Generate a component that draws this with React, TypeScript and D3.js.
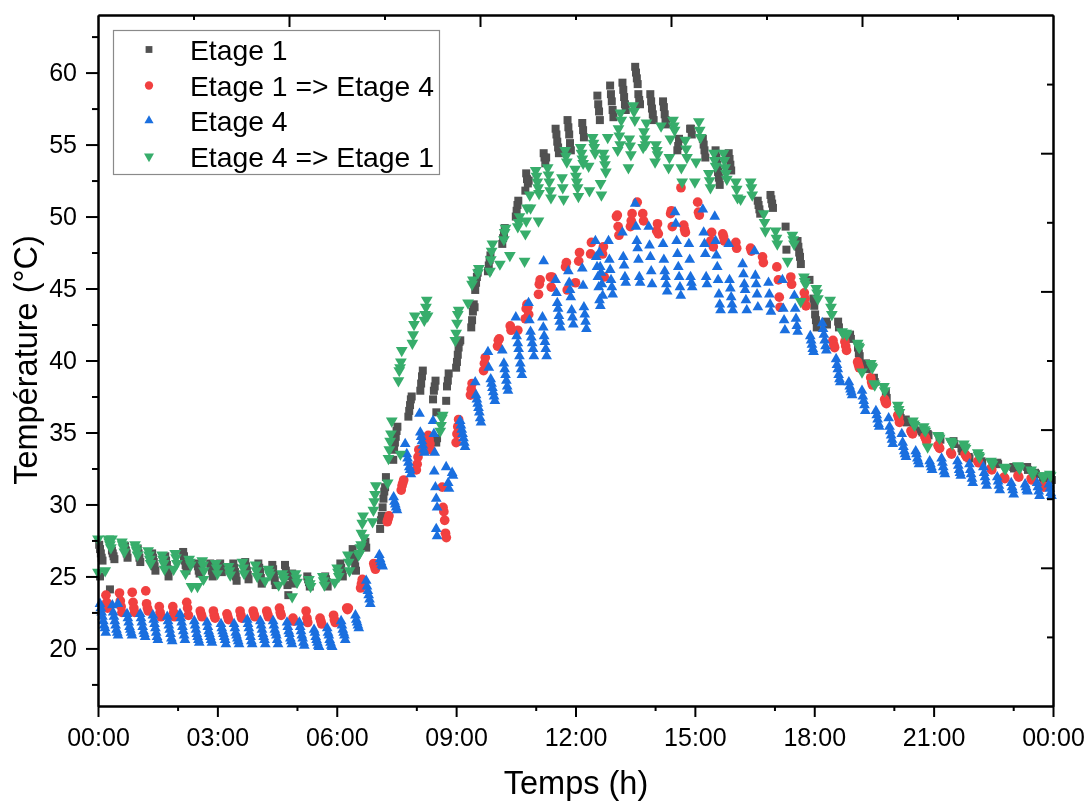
import * as d3 from "d3"
import { useEffect, useRef } from "react"

// each entry is one measurement burst: [start hour, successive temperatures, BURST_STEP apart]
type Burst = [number, number[]]

const BURST_STEP = 1 / 48

const etage1: Burst[] = [
  [0.03, [27.2, 26.9, 26.6, 26.3, 26.1]], [0.05, [25]],
  [0.35, [26.8, 26.6, 26.4, 26.2]], [0.3, [24.1]],
  [0.68, [27.1, 26.8, 26.6, 26.3]],
  [1.0, [26.9, 26.6, 26.3, 26]],
  [1.36, [26.6, 26.3, 26, 25.7, 25.4]],
  [1.69, [26.4, 26.1, 25.8, 25.5, 25]],
  [2.14, [26.7, 26.4, 26.1, 25.8, 25.4]],
  [2.49, [25.9, 25.7, 25.4, 25.2]],
  [2.82, [25.9, 25.7, 25.4, 25]],
  [3.07, [25.9, 25.6, 25.3]],
  [3.4, [25.9, 25.6, 25.3, 25, 24.7]],
  [3.7, [26, 25.7, 25.4, 25.1, 24.8]],
  [4.03, [25.9, 25.6, 25.3, 24.9, 24.5]],
  [4.38, [25.8, 25.5, 25.1, 24.7, 24.4]],
  [4.7, [25.8, 25.4, 25, 24.4, 23.7]],
  [4.88, [25.2, 24.9, 24.5]],
  [5.26, [25, 24.8, 24.6, 24.3]],
  [5.71, [25, 24.8, 24.6, 24.3]],
  [6.09, [25.9, 25.6, 25.2, 25]],
  [6.4, [26.9, 26.5, 26.1, 25.7, 25.4]],
  [6.72, [27.4, 27]],
  [7.09, [28.3, 28.9, 29.2, 29.8, 30.4, 30.9, 31.2, 31.9]],
  [7.42, [33.1, 33.8, 34.3, 34.7, 35.1, 35.4]],
  [7.8, [36.1, 36.5, 36.9, 37.3, 37.5]],
  [8.1, [37.9, 38.4, 38.9, 39.3]],
  [8.42, [37.3, 37.9, 38.2, 38.6, 36.4]],
  [8.5, [34.3, 34.6]],
  [8.75, [37.2, 38.2, 38.6, 39.1]],
  [9.0, [39.5, 39.9, 40.4, 40.9, 41.3, 41.4]],
  [9.38, [42.3, 42.8, 43.4, 43.9, 43.7]],
  [9.48, [44.9, 45.4, 45.8, 46.1]],
  [9.8, [46.2, 46.6, 47, 47.3]],
  [10.16, [48.1, 48.5, 48.8, 49.2]],
  [10.5, [50, 50.4, 50.8, 51.1]],
  [10.74, [51.8, 53, 52.6, 52.3, 52.5]],
  [11.2, [54.4, 54.1, 53.7, 54.1]],
  [11.5, [56.1, 55.7, 55.2, 54.8, 54.4]],
  [11.8, [56.7, 56.2, 55.7, 55.1, 54.6]],
  [12.17, [56.5, 56, 55.5]],
  [12.55, [58.4, 57.8, 57.3, 56.7]],
  [12.87, [59.1, 58.5, 58, 57.4, 56.9]],
  [13.18, [59.3, 58.8, 58.3, 57.8, 57.4]],
  [13.5, [60.4, 60, 59.6, 59.2]],
  [13.58, [58.5, 58.1, 57.8]],
  [13.88, [58.5, 58, 57.5, 57.1, 56.7]],
  [14.2, [58, 57.6, 57.1, 56.7, 56.4]],
  [14.56, [54.6, 54.9, 55.4]],
  [14.88, [56.1, 56.1, 55.7]],
  [15.2, [55.4, 55, 54.6, 54.1]],
  [15.52, [54.6, 54.1, 53.6, 53.1, 52.7, 52.2]],
  [15.85, [54.4, 54, 53.6, 53.2]],
  [16.58, [51.1, 50.8, 50.5, 50.2]],
  [16.9, [51.5, 51.2, 50.9, 50.6]],
  [17.28, [49.3, 47.7]],
  [17.58, [48.3, 47.9, 47.5, 47.2, 46.7]],
  [17.88, [45.6]],
  [17.98, [44.3, 43.8, 43.2, 42.8, 42.3]],
  [18.3, [42.7, 42.5]],
  [18.6, [42.7, 42.3]],
  [18.9, [41.8, 41.5]],
  [19.1, [40.9, 40.5, 40.3]],
  [19.3, [39.8, 39.4]],
  [19.5, [38.8, 38.5]],
  [19.8, [37.8, 37.4]],
  [20.15, [36.3, 36]],
  [20.3, [35.9, 35.7]],
  [20.5, [35.5, 35.2]],
  [20.7, [35.1, 35]],
  [20.85, [34.9, 34.8]],
  [21.15, [34.7, 34.5]],
  [21.5, [34.4, 34.2]],
  [21.7, [33.9, 33.7]],
  [21.88, [33.3, 33.2]],
  [22.2, [33, 32.9]],
  [22.6, [32.9, 32.8]],
  [23.0, [32.6, 32.5]],
  [23.35, [32.6, 32.4]],
  [23.55, [32.2, 32.1]],
  [23.75, [31.9, 31.8]],
  [23.95, [32, 31.7]],
]

const etage1To4: Burst[] = [
  [0.2, [23.7, 23.2, 22.8]], [0.54, [23.85, 23.3, 22.9, 22.5]], [0.86, [23.9, 23.2, 22.8, 22.5]],
  [1.2, [24, 23.1, 22.8, 22.6]], [1.54, [22.9, 22.5, 22.2]], [1.88, [22.9, 22.5, 22.2]],
  [2.23, [23.2, 22.8, 22.3]], [2.57, [22.6, 22.4, 22.2]], [2.9, [22.6, 22.3, 22.1]],
  [3.24, [22.4, 22.2, 22]], [3.57, [22.6, 22.3, 22.1]], [3.9, [22.6, 22.4, 22.2]],
  [4.24, [22.6, 22.4, 22.2]], [4.56, [22.8, 22.5, 22.3]], [4.9, [22.1, 21.9]],
  [5.23, [22.6, 22.1, 21.8]], [5.58, [22.1, 21.9, 21.7]], [5.92, [22.3, 22, 21.8]],
  [6.25, [22.8, 22.7, 22.8]], [6.6, [24.2, 24.5, 24.8]], [6.93, [25.9, 25.7, 25.5]],
  [7.27, [28.8, 29, 29.2]], [7.62, [31, 31.3, 31.5, 31.7]], [8.0, [32.4, 32.8, 33.3, 33.8]],
  [8.3, [34.8, 34.5, 34.2, 33.8]], [8.65, [31.2, 29.8, 29.5, 28.9, 28, 27.7]],
  [9.0, [34.3, 34.9, 35.4, 35.9]], [9.36, [37.6, 38, 38.4]], [9.69, [39.3, 39.8, 40.2]],
  [10.04, [41, 41.4, 41.5]], [10.36, [42.4, 42.1]], [10.55, [42.1]],
  [10.74, [42.9, 43.6, 43.9, 43.7, 43.2]], [11.07, [44.6, 45.3, 45.6]], [11.37, [45.8, 45.1, 45.8]],
  [11.75, [46.5, 46.8, 44.9]], [12.0, [45.4]], [12.08, [46.9, 47.5]], [12.38, [47.4, 48.2]],
  [12.68, [47.4, 47.9, 45.8]], [13.03, [50, 50.1, 49.3, 48.7]], [13.38, [49.3, 49.7, 50.2]], [13.55, [51]],
  [13.69, [50.2, 49.7]], [14.04, [49, 49.5, 48.8]], [14.39, [50.2, 50.4, 49.3]],
  [14.72, [49.4, 49.1, 48.9]], [14.65, [52]], [15.07, [51, 50.3, 50.1]],
  [15.4, [48.3, 48.9, 48.3, 47.9]], [15.7, [48.8, 48.6, 48.3]], [16.03, [48.2, 47.8]],
  [16.4, [47.8, 47.6]], [16.7, [47.2, 46.8]], [17.06, [46.5]], [17.1, [45.6, 44.4, 43.7]],
  [17.41, [45.8, 45.3]], [17.75, [44.7, 44.3, 43.8]],
  [18.47, [41.4, 41.1, 40.9]], [18.77, [41.3, 41, 40.7]], [19.09, [39.9, 39.7, 39.5]],
  [19.42, [38.8, 38.5, 38.3]], [19.77, [37.3, 37.1, 37]], [20.1, [36.2, 36, 35.7]],
  [20.43, [35.1, 35, 34.9]], [20.78, [34.7, 34.6, 34.4]], [21.11, [34.1, 34, 33.9]],
  [21.43, [33.6, 33.5]], [21.79, [33.5, 33.4, 33.3]], [22.11, [33, 32.9]], [22.44, [32.5, 32.4]],
  [22.77, [31.9, 31.8]], [23.12, [32, 31.9]], [23.45, [31.8, 31.7]], [23.75, [31.3, 31.2]],
]

const etage4: Burst[] = [
  [0.05, [23.1, 22.8, 22.5, 22.2, 21.9, 21.6, 21.4, 21.1]], [0.36, [23]], [0.5, [23.1]],
  [0.38, [22.5, 22.2, 21.9, 21.6, 21.3, 21.1, 20.9]],
  [0.73, [22.4, 22.1, 21.8, 21.5, 21.3, 21.1, 20.9]],
  [1.06, [22.4, 22.1, 21.8, 21.5, 21.2, 21, 20.8]],
  [1.38, [22.3, 22, 21.7, 21.4, 21.1, 20.8, 20.6]],
  [1.74, [22.2, 21.9, 21.6, 21.3, 21, 20.7, 20.5]],
  [2.06, [22.4, 22.1, 21.8, 21.5, 21.2, 20.9, 20.6]],
  [2.42, [21.9, 21.6, 21.3, 21, 20.8, 20.6, 20.4]],
  [2.74, [21.8, 21.5, 21.2, 21, 20.8, 20.6, 20.4]],
  [3.09, [21.7, 21.4, 21.2, 21, 20.8, 20.6, 20.3]],
  [3.42, [21.7, 21.4, 21.1, 20.9, 20.7, 20.5, 20.3]],
  [3.75, [22, 21.7, 21.4, 21.1, 20.8, 20.5, 20.3]],
  [4.08, [21.9, 21.6, 21.3, 21, 20.8, 20.6, 20.3]],
  [4.4, [21.9, 21.6, 21.3, 21.1, 20.9, 20.6, 20.3]],
  [4.75, [21.8, 21.5, 21.2, 21, 20.7, 20.5, 20.3]],
  [5.06, [21.8, 21.5, 21.2, 20.9, 20.7, 20.4, 20.2]],
  [5.43, [21.3, 21.1, 20.8, 20.6, 20.4, 20.2, 20.1]],
  [5.76, [21.4, 21.1, 20.9, 20.6, 20.4, 20.2, 20.1]],
  [6.11, [21.9, 21.6, 21.3, 21.1, 20.9, 20.6]],
  [6.47, [22.3, 22, 21.8, 21.6, 21.4]],
  [6.74, [24.7, 24.3, 24, 23.7, 23.4, 23.1]],
  [7.07, [26.5, 26.2, 26, 25.8, 25.7]],
  [7.43, [30.5, 30.2, 30, 29.8, 29.6]],
  [7.72, [34.2]], [7.76, [33.5, 33.2, 32.9, 32.6, 32.4, 32.1]],
  [8.08, [36.3]], [8.1, [35, 34.7, 34.4, 34.1, 33.8, 33.6]],
  [8.42, [35.8, 34.9, 33.6]], [8.45, [32.3]],
  [8.75, [32.6]], [8.9, [32.2, 32]], [8.8, [31.5, 31.1]],
  [8.48, [31.2, 30.4, 29.8]], [8.5, [28.3, 27.8]],
  [9.1, [35.8, 35.5, 35.2, 34.9, 34.6, 34.3, 34]],
  [9.48, [38.5]], [9.5, [37.6, 37.3, 37, 36.7, 36.4, 36, 35.7]],
  [9.8, [40.6, 39.5]], [9.87, [38.7, 38.4, 38.1, 37.8, 37.5, 37.2]],
  [10.16, [40.7]], [10.2, [39.8, 39.4, 39, 38.6, 38.2, 37.9]],
  [10.5, [43, 41.7]], [10.55, [41.2, 40.8, 40.3, 39.8, 39.4, 39]],
  [10.82, [44, 42.8]], [10.87, [42, 41.6, 41.2, 40.8, 40.3]],
  [11.17, [43, 42.3, 41.7, 41.3, 40.8, 40.3]], [11.2, [46.9]],
  [11.5, [45.6, 44.7, 44, 43.6, 43.1, 42.7, 42.3]],
  [11.82, [46.2, 45.4, 44.9, 44.4, 43.5, 43, 42.5]],
  [12.17, [46.4, 45.2, 43.7, 43.2, 42.7, 42.2]],
  [12.5, [48.3, 47.2, 46.5, 45.8, 45.1, 44.2, 43.8]],
  [12.6, [47.5, 46.5, 46.1, 45.3, 44.5]],
  [12.83, [48.3, 47, 46.3, 45.6, 45.1, 44.6]],
  [13.18, [48.9, 47.2, 46.6, 45.8, 45.4]],
  [13.5, [50.9]], [13.52, [49.3, 48.3, 47.8, 47, 45.8, 45.4]],
  [13.84, [49.3, 48, 47.2, 46.2, 45.3]],
  [14.2, [48.1, 47, 46.2, 45.8, 45.3, 44.8]],
  [14.5, [50.3, 49.5, 48.3, 47.4, 46.5, 45.8, 45.1, 44.5]],
  [14.85, [48.1, 47, 45.8, 45.4, 45.1]],
  [15.2, [50.5, 48.9, 48.1, 47.4, 45.8, 45.3]],
  [15.5, [50, 48.3, 47.3, 46.5, 45.6, 44.6, 43.9, 43.5]],
  [15.85, [48.1, 45.6, 45, 44.4, 43.9, 43.5]],
  [16.2, [46.7, 46, 45.3, 44.9, 44.2, 43.5]],
  [16.5, [47.6, 45.9, 45.3, 44.6, 43.7]],
  [16.85, [45.4, 44.6, 43.9, 43.4]],
  [17.2, [45.6, 43.6, 42.8, 42.1]],
  [17.5, [44.5, 43.6, 42.9, 42.4, 42]],
  [17.9, [41.7, 41.4, 41.1, 40.8, 40.6]],
  [18.2, [42.6, 42.2, 41.8, 41.4, 41, 40.7]],
  [18.55, [40.1, 39.7, 39.4, 39, 38.7, 38.5]],
  [18.87, [38.5, 38.2, 38, 37.8, 37.6]],
  [19.2, [37.9, 37.5, 37.2, 36.9, 36.5]],
  [19.55, [36.5, 36.2, 35.9, 35.6, 35.4]],
  [19.87, [36, 35.4, 35.1, 34.8, 34.5, 34.2]],
  [20.2, [34.9, 34.3, 34, 33.7, 33.5, 33.3]],
  [20.55, [33.7, 33.5, 33.2, 33, 32.8]],
  [20.9, [33, 32.8, 32.6, 32.4]],
  [21.2, [33.2, 32.9, 32.6, 32.3, 32.1]],
  [21.6, [33, 32.7, 32.4, 32.2, 32]],
  [21.9, [32.8, 32.4, 32.1, 31.8, 31.5]],
  [22.25, [32.6, 32.2, 31.9, 31.6, 31.3]],
  [22.6, [31.9, 31.6, 31.3, 31]],
  [22.95, [31.5, 31.2, 31, 30.7]],
  [23.3, [31.4, 31.2, 31, 30.9]],
  [23.6, [31.5, 31.2, 30.9, 30.6]],
  [23.9, [31.4, 31.1, 30.8, 30.6]],
]

const etage4To1: Burst[] = [
  [0.0, [27.6]], [0.0, [25.3]], [0.18, [25.4]],
  [0.26, [27.6, 27.4, 27.2, 27]], [0.35, [27.6]],
  [0.6, [27.4, 27.2, 27, 26.7]], [0.93, [27.2, 27, 26.8, 26.5]],
  [1.26, [26.8, 26.5, 26.2, 25.9]], [1.61, [26.5, 26.2, 25.9, 25.5]],
  [1.94, [26.6, 26.3, 25.9]], [1.9, [25.5]], [2.2, [25.2]],
  [2.29, [26.2, 26, 25.8]], [2.35, [24.3]], [2.5, [24.3]],
  [2.62, [26.1, 25.8, 25.4]], [2.65, [24.8]],
  [2.96, [25.9, 25.6, 25.2]], [3.28, [25.7, 25.4, 25.1]], [3.63, [26, 25.6, 25.2]],
  [3.96, [25.8, 25.4, 25]], [4.2, [24.7]], [4.28, [25.5, 25.3, 25.1]],
  [4.54, [24.4]], [4.63, [25.2, 25, 24.8]], [4.88, [23.6]], [4.96, [25.2, 24.9, 24.6]],
  [5.3, [24.8, 24.5, 24.3]], [5.65, [25, 24.7, 24.4]],
  [5.95, [24.6]], [6.01, [25.6, 25.3, 25]], [6.28, [26.5, 26, 25.4]],
  [6.55, [26.5, 26.6, 27, 27.2]], [6.62, [28, 28.7, 29.2, 27.7]],
  [6.9, [28.8, 29.6, 30.2, 30.7, 31.3]], [7.28, [31.5]],
  [7.3, [33.2, 33.8, 34.4, 34.9, 35.8]], [7.6, [33.5]],
  [7.55, [38.6, 39.3, 39.5, 39.9, 40.7]],
  [7.9, [41.2, 41.8, 42.5, 43.1]], [8.2, [42.8, 43.2, 43.7, 44.2, 43.1]],
  [8.6, [35.1, 35.5, 36, 36.2]],
  [8.98, [41.4, 41.9, 42.6, 43.2, 43.5]], [9.3, [44]],
  [9.4, [45.3, 45.6]], [9.55, [46.1, 46.4]], [9.85, [46.2, 47, 47.6, 48.1]],
  [10.1, [46.7]], [10.2, [48.4, 48.9, 49.2]], [10.35, [47.3]],
  [10.55, [49.3, 49.6, 50]], [10.72, [46.9, 48.8, 49.7, 50.6]],
  [10.85, [51.5, 50.6]], [11.07, [49.7]],
  [11.0, [53.2, 52.8, 52.4, 52, 51.6]],
  [11.3, [53.4, 52.9, 52.4, 51.8, 51.3]],
  [11.66, [52.7, 52, 51.2]], [11.74, [54.6, 54.2, 53.8]],
  [11.99, [53.3, 52.8, 52.4, 52, 51.4]], [12.13, [54.8, 54.4, 54, 53.7]],
  [12.33, [53.5, 51.8]], [12.43, [55.5, 55.1, 54.8, 54.4]],
  [12.63, [52.3, 51.5]], [12.7, [54.4, 54, 53.6, 53.1]], [12.81, [55.5]],
  [13.06, [54.6, 56.1, 55.6, 55]], [13.13, [57.2, 56.7]],
  [13.33, [53.4, 55.4, 54.9, 54.3]], [13.45, [57.7, 57.3, 56.7]],
  [13.7, [54.8, 55.9, 55.4, 55, 56.5]],
  [14.0, [53.8, 55, 54.6, 54.3]], [14.15, [56.3]],
  [14.34, [53.4, 54.1, 55.4]], [14.45, [56.7, 56.3, 56]],
  [14.66, [53.4, 52.4]], [14.76, [55.3, 54.7, 54.1]], [15.0, [52.4]],
  [15.03, [53.8]], [15.1, [56.6, 56, 55.5]],
  [15.35, [53, 52.5, 52]], [15.48, [54.4, 53.9, 53.5]],
  [15.72, [54.4, 53.9, 53.4, 53, 52.6]],
  [16.03, [52.4, 51.9, 51.3]], [16.15, [51.2]],
  [16.4, [52.4, 52, 51.5]], [16.73, [50.2, 49.6, 49]],
  [17.03, [49, 48.5, 48.1]], [17.33, [46.9]], [17.45, [48.7, 48.4, 48.1]],
  [17.74, [45.8, 45.5, 45.3]], [17.66, [44.1]],
  [18.05, [45, 44.7, 44.3]], [18.4, [44.2, 43.7, 43.2]],
  [18.7, [42, 41.9]], [18.8, [41.9, 41.8]], [19.09, [41.2, 41, 40.9]], [19.42, [39.8, 39.6, 39.5]], [19.2, [39.2]],
  [19.5, [38.4, 38.3]], [19.75, [38.2, 37.9]], [20.1, [36.9, 36.6, 36.4]], [20.48, [35.8, 35.6, 35.5]],
  [20.75, [35.4, 35.2, 35.1]], [20.85, [34]], [21.11, [34.8, 34.7, 34.6]], [21.43, [34.4, 34.3, 34.2]],
  [21.76, [34.2, 34, 33.9]], [22.11, [33.6, 33.4, 33.3]], [22.44, [33, 32.9, 32.8]], [22.77, [32.6, 32.5, 32.5]],
  [23.12, [32.7, 32.6, 32.5]], [23.45, [32.4, 32.2, 32.1]], [23.75, [31.9, 32, 32]], [23.92, [32.1, 32]],
]

const temperatureTicks = [20, 25, 30, 35, 40, 45, 50, 55, 60]
const temperatureMinorTicks = [17.5, 22.5, 27.5, 32.5, 37.5, 42.5, 47.5, 52.5, 57.5, 62.5]
const rightTicks = [25.6, 35.2, 44.8, 54.4]
const rightMinorTicks = [20.8, 30.4, 40, 49.6, 59.2]
const hourTicks = [0, 3, 6, 9, 12, 15, 18, 21, 24]
const hourMinorTicks = [2, 5, 8, 11, 14, 17, 20, 23]
const topTicks = [4.8, 9.6, 14.4, 19.2]
const topMinorTicks = [2.4, 7.2, 12, 16.8, 21.6]
const hourLabels = ["00:00", "03:00", "06:00", "09:00", "12:00", "15:00", "18:00", "21:00", "00:00"]

const WIDTH = 1086
const HEIGHT = 801
const LEFT = 98
const RIGHT = 1053
const TOP = 15
const BOTTOM = 706
const FONT = "'Liberation Sans', Arial, sans-serif"

const xScale = d3.scaleLinear().domain([0, 24]).range([LEFT, RIGHT])
const yScale = d3.scaleLinear().domain([16, 64]).range([BOTTOM, TOP])

const series = [
  { name: "Etage 1", data: etage1, color: "#515151", path: d3.symbol(d3.symbolSquare, 64)(), rotate: 0 },
  { name: "Etage 1 => Etage 4", data: etage1To4, color: "#F14040", path: d3.symbol(d3.symbolCircle, 74)(), rotate: 0 },
  { name: "Etage 4", data: etage4, color: "#1A6FDF", path: d3.symbol(d3.symbolTriangle, 50)(), rotate: 0 },
  { name: "Etage 4 => Etage 1", data: etage4To1, color: "#37AD6B", path: d3.symbol(d3.symbolTriangle, 60)(), rotate: 180 },
]

const legendRows = [49.5, 85.5, 120.5, 156.5]

export default function App() {
  const axesRef = useRef<SVGGElement>(null)

  useEffect(() => {
    const g = d3.select(axesRef.current)
    g.selectAll("*").remove()

    const draw = (axis: any, x: number, y: number) => {
      const a = g.append("g").attr("transform", `translate(${x},${y})`).call(axis)
      a.selectAll("path, line").attr("stroke", "#000").attr("stroke-width", 2)
      a.selectAll("text").attr("fill", "#000").attr("font-family", FONT).attr("font-size", 25)
      return a
    }

    draw(d3.axisLeft(yScale).tickValues(temperatureTicks).tickSize(12).tickPadding(9).tickSizeOuter(0), LEFT, 0)
    draw(d3.axisLeft(yScale).tickValues(temperatureMinorTicks).tickSize(6).tickFormat(() => "").tickSizeOuter(0), LEFT, 0)
    draw(d3.axisLeft(yScale).tickValues(rightTicks).tickSize(12).tickFormat(() => "").tickSizeOuter(0), RIGHT, 0)
    draw(d3.axisLeft(yScale).tickValues(rightMinorTicks).tickSize(6).tickFormat(() => "").tickSizeOuter(0), RIGHT, 0)
    draw(
      d3.axisBottom(xScale).tickValues(hourTicks).tickSize(11).tickPadding(11).tickSizeOuter(0)
        .tickFormat((_, i) => hourLabels[i]),
      0, BOTTOM,
    )
    draw(d3.axisBottom(xScale).tickValues(hourMinorTicks).tickSize(5).tickFormat(() => "").tickSizeOuter(0), 0, BOTTOM)
    draw(d3.axisBottom(xScale).tickValues(topTicks).tickSize(12).tickFormat(() => "").tickSizeOuter(0), 0, TOP)
    draw(d3.axisBottom(xScale).tickValues(topMinorTicks).tickSize(5).tickFormat(() => "").tickSizeOuter(0), 0, TOP)
  }, [])

  return (
    <svg width={WIDTH} height={HEIGHT} style={{ position: "absolute", left: 0, top: 0, background: "#fff", filter: "blur(0.4px)" }}>
      {series.map((s) => (
        <g key={s.name} fill={s.color}>
          {s.data.flatMap(([start, temps], i) =>
            temps.map((t, j) => (
              <path
                key={`${i}-${j}`}
                d={s.path}
                transform={`translate(${xScale(start + j * BURST_STEP)},${yScale(t)}) rotate(${s.rotate})`}
              />
            )),
          )}
        </g>
      ))}

      <g ref={axesRef} />

      <rect x={113.5} y={30.5} width={326} height={144} fill="#fff" stroke="#8a8a8a" strokeWidth={1.2} />
      {series.map((s, i) => (
        <g key={s.name}>
          <path
            d={s.path}
            fill={s.color}
            transform={`translate(149,${legendRows[i]}) rotate(${s.rotate}) scale(0.85)`}
          />
          <text x={190} y={legendRows[i]} dy="0.36em" fontFamily={FONT} fontSize={28.3} fill="#000">
            {s.name}
          </text>
        </g>
      ))}

      <text
        transform="translate(37,360) rotate(-90)"
        textAnchor="middle"
        fontFamily={FONT}
        fontSize={32.5}
        fill="#000"
      >
        Température (°C)
      </text>
      <text x={576} y={794} textAnchor="middle" fontFamily={FONT} fontSize={32.5} fill="#000">
        Temps (h)
      </text>
    </svg>
  )
}
